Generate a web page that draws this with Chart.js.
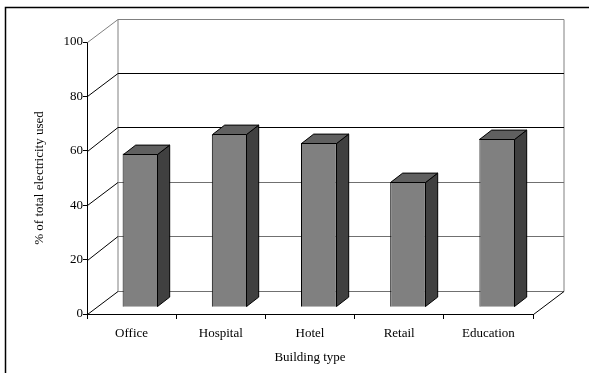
<!DOCTYPE html>
<html>
<head>
<meta charset="utf-8">
<script src="https://cdn.jsdelivr.net/npm/chart.js@4.4.0/dist/chart.umd.min.js"></script>
<style>
  html, body { margin: 0; padding: 0; background: #fff; }
  #wrap { width: 589px; height: 373px; position: relative; }
</style>
</head>
<body>
<div id="wrap"><canvas id="c" width="589" height="373"></canvas></div>
<script>
const categories = ['Office', 'Hospital', 'Hotel', 'Retail', 'Education'];
const values = [56.5, 63.5, 60.5, 46, 62];
const yTicks = [0, 20, 40, 60, 80, 100];
const xTitle = 'Building type';
const yTitle = '% of total electricity used';

const FONT = 'Liberation Serif, Times New Roman, serif';
// oblique depth of the 3D box
const DEPTH_X = 30.5, DEPTH_Y = 23.5;
const BAR_OFF = 0.29, BAR_DEPTH = 0.4;

const threeD = {
  id: 'threeD',
  beforeDraw(chart) {
    const ctx = chart.ctx;
    ctx.save();
    ctx.fillStyle = '#fff';
    ctx.fillRect(0, 0, chart.width, chart.height);
    ctx.strokeStyle = '#000';
    ctx.lineWidth = 1.5;
    ctx.strokeRect(5.5, 7.5, 700, 500);
    ctx.restore();
  },
  beforeDatasetsDraw(chart) {
    const ctx = chart.ctx;
    const ys = chart.scales.y;
    const a = chart.chartArea;
    const L = Math.round(a.left) + 0.5, R = Math.round(a.right) + 0.5;
    ctx.save();
    ctx.lineWidth = 1;
    const bl = L + DEPTH_X, br = R + DEPTH_X;
    const topY = Math.round(ys.getPixelForValue(100) - DEPTH_Y) + 0.5;
    const botY = Math.round(ys.getPixelForValue(0) - DEPTH_Y) + 0.5;
    ctx.strokeStyle = '#808080';
    ctx.beginPath();
    ctx.moveTo(bl, botY); ctx.lineTo(bl, topY); ctx.lineTo(br, topY); ctx.lineTo(br, botY);
    ctx.stroke();
    yTicks.forEach(v => {
      const fy = Math.round(ys.getPixelForValue(v)) + 0.5;
      const by = Math.round(ys.getPixelForValue(v) - DEPTH_Y) + 0.5;
      const dark = (v === 60 || v === 80);
      ctx.strokeStyle = dark ? '#000' : '#707070';
      if (v !== 100) {
        ctx.beginPath(); ctx.moveTo(bl, by); ctx.lineTo(br, by); ctx.stroke();
      }
      ctx.strokeStyle = v === 100 ? '#808080' : '#000';
      ctx.beginPath(); ctx.moveTo(L, fy); ctx.lineTo(bl, by); ctx.stroke();
    });
    const fy0 = Math.round(ys.getPixelForValue(0)) + 0.5;
    ctx.strokeStyle = '#000';
    ctx.beginPath(); ctx.moveTo(R, fy0); ctx.lineTo(br, botY); ctx.stroke();
    ctx.restore();
    ctx.save();
    ctx.translate(DEPTH_X * BAR_OFF, -DEPTH_Y * BAR_OFF);
  },
  afterDatasetsDraw(chart) {
    const ctx = chart.ctx;
    ctx.restore();
    const meta = chart.getDatasetMeta(0);
    const ox = DEPTH_X * BAR_OFF, oy = -DEPTH_Y * BAR_OFF;
    const dx = DEPTH_X * BAR_DEPTH, dy = DEPTH_Y * BAR_DEPTH;
    ctx.save();
    ctx.lineWidth = 1;
    ctx.strokeStyle = '#000';
    meta.data.forEach(el => {
      const p = el.getProps(['x', 'y', 'base', 'width'], true);
      const xl = Math.round(p.x - p.width / 2 + ox) + 0.5;
      const xr = Math.round(p.x + p.width / 2 + ox) - 0.5;
      const yt = Math.round(p.y + oy) + 0.5;
      const yb = Math.round(p.base + oy) - 0.5;
      ctx.fillStyle = '#404040';
      ctx.beginPath();
      ctx.moveTo(xr, yt); ctx.lineTo(xr + dx, yt - dy); ctx.lineTo(xr + dx, yb - dy); ctx.lineTo(xr, yb);
      ctx.closePath(); ctx.fill(); ctx.stroke();
      ctx.fillStyle = '#606060';
      ctx.beginPath();
      ctx.moveTo(xl, yt); ctx.lineTo(xl + dx, yt - dy); ctx.lineTo(xr + dx, yt - dy); ctx.lineTo(xr, yt);
      ctx.closePath(); ctx.fill(); ctx.stroke();
    });
    ctx.restore();
  }
};

new Chart(document.getElementById('c'), {
  type: 'bar',
  data: {
    labels: categories,
    datasets: [{
      data: values,
      backgroundColor: '#808080',
      borderColor: '#000',
      borderWidth: 1,
      categoryPercentage: 1,
      barPercentage: 0.4
    }]
  },
  options: {
    responsive: false,
    animation: false,
    devicePixelRatio: 1,
    events: [],
    layout: { padding: { left: 30, top: 42, right: 56, bottom: 8 } },
    plugins: { legend: { display: false }, tooltip: { enabled: false } },
    scales: {
      x: {
        offset: true,
        grid: { offset: true, drawOnChartArea: false, drawTicks: true, tickLength: 5, color: '#000' },
        border: { display: true, color: '#000', width: 1 },
        ticks: { color: '#000', padding: 7, font: { family: FONT, size: 13 }, maxRotation: 0 },
        title: { display: true, text: xTitle, color: '#000', padding: { top: 0, bottom: 0 }, font: { family: FONT, size: 13 } },
        afterFit(s) { s.height = 51; }
      },
      y: {
        min: 0, max: 100,
        afterBuildTicks(s) { s.ticks = yTicks.map(v => ({ value: v })); },
        grid: { drawOnChartArea: false, drawTicks: true, tickLength: 4, color: '#000' },
        border: { display: true, color: '#000', width: 1 },
        ticks: { color: '#000', padding: 0, font: { family: FONT, size: 13 } },
        title: { display: true, text: yTitle, color: '#000', padding: { top: 2, bottom: 0 }, font: { family: FONT, size: 13 } },
        afterFit(s) { s.width = 57; }
      }
    }
  },
  plugins: [threeD]
});
</script>
</body>
</html>
